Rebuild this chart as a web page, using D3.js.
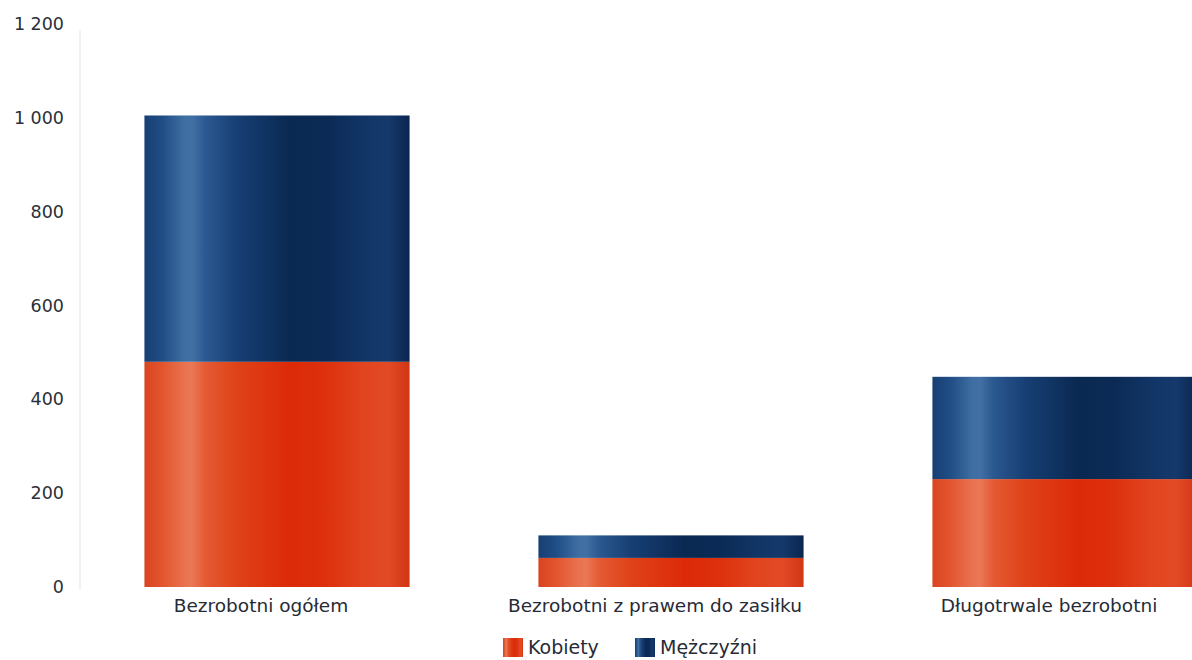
<!DOCTYPE html>
<html><head><meta charset="utf-8">
<script src="https://cdn.jsdelivr.net/npm/d3@7/dist/d3.min.js"></script>
<style>
html,body{margin:0;padding:0;background:#fff;}
svg{display:block;font-family:"DejaVu Sans",Verdana,sans-serif;}
</style></head>
<body>
<svg id="chart" width="1192" height="660"></svg>
<script>
const categories = ["Bezrobotni ogółem", "Bezrobotni z prawem do zasiłku", "Długotrwale bezrobotni"];
const kobiety = [480, 62, 230];
const mezczyzni = [525, 48, 218];
const seriesNames = ["Kobiety", "Mężczyźni"];
const yTicks = [0, 200, 400, 600, 800, 1000, 1200];

const svg = d3.select("#chart");
const y = d3.scaleLinear().domain([0, 1200]).range([587, 24]);
const x = d3.scaleBand().domain(categories).range([80, 80 + 3 * 394]).paddingInner(0.327).paddingOuter(0.1635);

const locale = d3.formatLocale({decimal: ",", thousands: "\u00a0", grouping: [3], currency: ["", " zł"]});
const fmt = locale.format(",d");

const defs = svg.append("defs");
function grad(id, stops) {
  const g = defs.append("linearGradient").attr("id", id).attr("x1", "0%").attr("x2", "100%").attr("y1", "0%").attr("y2", "0%");
  stops.forEach(s => g.append("stop").attr("offset", s[0]).attr("stop-color", s[1]));
}
grad("gRed", [["0%", "#da4420"], ["7%", "#e2562f"], ["15%", "#e97250"], ["18%", "#ea7755"], ["23%", "#e45a33"], ["35%", "#df4218"], ["55%", "#dc2a08"], ["68%", "#dd300c"], ["82%", "#e1441f"], ["92%", "#e24a26"], ["100%", "#d23514"]]);
grad("gBlue", [["0%", "#173f74"], ["7%", "#204e86"], ["15%", "#3f6ea2"], ["18%", "#4370a4"], ["23%", "#2a5890"], ["35%", "#173f74"], ["55%", "#0a2952"], ["68%", "#0b2a55"], ["82%", "#113565"], ["92%", "#15396b"], ["100%", "#0b2650"]]);

// faint axis line
svg.append("line").attr("x1", 80).attr("x2", 80).attr("y1", 30).attr("y2", 590)
  .attr("stroke", "#f2f2f2").attr("stroke-width", 2);

// y axis labels
const yAxis = d3.axisLeft(y).tickValues(yTicks).tickFormat(fmt).tickSize(0).tickPadding(0);
const ya = svg.append("g").attr("transform", "translate(64,0)").call(yAxis);
ya.select(".domain").remove();
ya.selectAll("text").attr("font-size", 17.5).attr("fill", "#2a2f3a").attr("font-family", "DejaVu Sans, sans-serif");

const stackData = categories.map((c, i) => ({cat: c, Kobiety: kobiety[i], "Mężczyźni": mezczyzni[i]}));
const stack = d3.stack().keys(seriesNames)(stackData);
const fills = {"Kobiety": "url(#gRed)", "Mężczyźni": "url(#gBlue)"};

svg.append("g").selectAll("g").data(stack).join("g")
  .attr("fill", d => fills[d.key])
  .selectAll("rect").data(d => d).join("rect")
  .attr("x", d => x(d.data.cat))
  .attr("width", x.bandwidth())
  .attr("y", d => y(d[1]))
  .attr("height", d => y(d[0]) - y(d[1]));

// category labels
const xa = svg.append("g");
xa.selectAll("text").data(categories).join("text")
  .attr("x", d => x(d) + x.bandwidth() / 2 - 16)
  .attr("y", 612)
  .attr("text-anchor", "middle")
  .attr("font-size", 18.5)
  .attr("fill", "#262b36")
  .text(d => d);

// legend
const legendX = [503, 635];
const legendColors = ["url(#gRed)", "url(#gBlue)"];
const lg = svg.append("g");
seriesNames.forEach((n, i) => {
  lg.append("rect").attr("x", legendX[i]).attr("y", 638).attr("width", 20).attr("height", 19).attr("fill", legendColors[i]);
  lg.append("text").attr("x", legendX[i] + 25).attr("y", 654).attr("font-size", 19).attr("fill", "#262b36").text(n);
});
</script>
</body></html>
